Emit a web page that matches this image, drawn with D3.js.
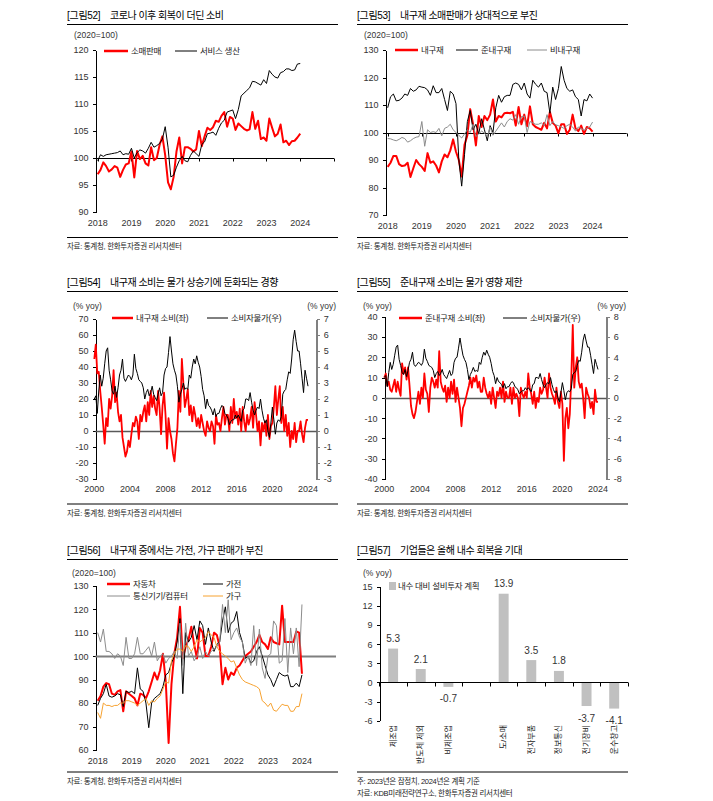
<!DOCTYPE html>
<html>
<head>
<meta charset="utf-8">
<script src="https://cdn.jsdelivr.net/npm/d3@7"></script>
<style>
body { margin: 0; background: #fff; }
svg text { font-family: "Liberation Sans", "Noto Sans CJK KR", sans-serif; }
.ax path, .ax line { stroke: #000; shape-rendering: crispEdges; }
.ax text { fill: #333; font-size: 9px; }
</style>
</head>
<body>
<svg id="chart" width="713" height="801"></svg>
<script>
// ---- data ----
var years18 = [2018, 2019, 2020, 2021, 2022, 2023, 2024];
var years00 = [2000, 2004, 2008, 2012, 2016, 2020, 2024];

// 그림52, monthly from 2018.01
var retail52 = [97.0,97.8,99.2,98.5,97.5,97.9,98.5,98.2,96.5,97.8,98.8,99.0,
  101.2,96.4,101.3,99.8,100.4,99.0,98.6,102.0,99.6,100.0,102.4,104.0,
  100.5,95.5,94.2,96.5,101.2,103.8,99.0,102.0,102.0,101.7,101.2,101.6,
  105.0,102.2,104.0,105.6,105.2,105.7,106.9,106.7,107.8,108.5,105.8,107.6,
  107.3,105.2,106.4,105.9,105.4,105.1,105.3,108.5,105.4,106.9,103.5,103.8,
  103.2,107.3,105.6,104.0,104.5,106.2,102.9,103.2,102.4,103.1,103.2,103.8,104.5];
var service52 = [99.5,100.6,100.3,100.6,100.7,100.8,100.9,101.0,101.3,100.6,100.8,100.7,
  101.8,100.0,101.0,101.5,101.3,100.9,101.8,102.9,102.0,102.3,102.7,103.5,
  105.8,102.0,96.5,96.8,98.3,99.5,100.3,99.5,99.3,100.5,101.3,100.8,
  100.3,102.5,103.0,104.5,104.6,104.8,104.2,105.5,106.5,107.0,108.5,108.7,
  108.9,107.3,109.0,111.5,112.0,112.5,113.0,114.2,114.1,113.8,113.5,114.5,
  113.8,116.2,115.5,115.0,114.8,115.8,116.0,116.5,116.5,116.2,116.3,117.4,117.5];

// 그림53, monthly from 2018.01
var durable53 = [87.5,89.0,91.5,91.5,88.5,87.8,88.0,89.0,83.8,87.0,90.0,88.5,
  87.5,86.0,92.5,89.0,89.5,88.0,85.5,89.5,92.0,91.0,93.5,97.5,
  93.0,90.0,84.0,95.5,99.0,108.5,103.0,95.3,106.0,102.0,106.0,104.5,
  106.5,112.0,104.0,106.0,105.5,107.0,107.2,107.0,107.5,102.5,109.3,103.0,
  106.5,102.3,109.5,103.0,102.0,101.5,101.0,103.5,101.5,107.5,103.5,102.5,
  99.7,103.0,103.0,99.5,101.0,106.5,101.5,100.5,102.5,99.5,102.0,101.5,100.3];
var semi53 = [109,113,114,111.5,111.7,112.5,114,113.5,116,115,115.5,116.8,
  116.5,116.3,115.5,113.5,117,114.5,114.5,116,112,108,115,114,
  110.5,90,80.5,92,104,108,101,103,99.5,105,101,97,
  102.5,100,109,113.5,111,113,113.5,113.5,117.5,118,117.5,115.5,
  118,114,112.5,119,117.5,116.5,118,115,114.5,107,116.5,112,
  116,124,119,116,115,115.5,113,112,106,112,111.5,114,112.5];
var nondur53 = [97.8,97.7,97.3,97,97.5,98.2,97.8,96.5,97,97.8,98.3,98.5,
  104,95,101,100,100.3,100,101.5,98.8,101.5,102,103,101,
  100,99,98,99.5,101,100,103,98.5,99.5,100.5,99.8,98.5,
  102,99,100.5,102,103.5,102,104,105,104.5,106.5,103,105.8,
  106,100,104,103.5,103,103,103.5,102.5,106.5,102.5,104,102.8,
  102.5,102,101.5,102.5,103,102,100.5,102,101.5,100.8,101.5,102,103.8];

// 그림54/55, every 2 months from 2000.01
var durCons54 = [45,54,36,37,25,15, 4,-8,8,3,20,14, 22,38,18,24,12,6, 10,-4,-10,-16,-13,-6,
  -10,-2,5,3,9,6, -5,10,6,12,16,6, 18,10,25,15,22,14, 10,25,14,-2,16,24,
  10,-11,8,0,-5,-14, -19,-8,2,25,12,45, 30,15,20,26,10,16, 6,15,10,3,8,2,
  10,5,0,-3,6,2, 0,6,3,-8,10,4, 5,0,8,15,4,10, 10,0,15,5,20,8,
  12,4,14,0,15,6, 0,10,4,8,15,2, 18,10,0,6,-9,5, 0,6,-3,10,-5,3,
  5,15,28,10,20,28, 5,15,0,10,-3,5, -10,0,-5,5,-7,0, 0,6,-2,-7,2,7, 7];
var semiCons55 = [10,12,6,8,4,3, 6,9,3,8,4,1, 17,12,15,9,15,6, -4,-8,-10,-7,-2,3,
  -3,5,0,12,4,2, -7,5,10,8,5,9, 5,23,8,5,3,6, -2,5,0,8,2,9,
  -2,5,0,-5,-14,-5, -3,0,3,6,10,5, 10,8,11,5,8,3, 3,10,5,2,0,3,
  -3,5,0,-5,3,1, 5,0,8,-2,3,0, 0,5,-3,5,0,2, 0,-9,5,2,0,3,
  0,12,5,2,-3,3, -5,0,-2,5,2,4, 10,5,0,12,5,2, 0,-3,5,-2,-5,3,
  -3,-31,-10,-5,-15,-8, 10,36,5,15,20,8, 5,7,0,-10,5,2, 0,-5,-2,-8,4,-2, -2];
var cpi = [2.0,2.2,1.1,2.5,3.5,2.8, 3.3,4.2,5.0,5.2,3.8,3.2, 2.5,2.3,2.8,2.1,2.7,3.5, 3.8,4.5,3.3,3.1,3.3,3.5,
  3.4,3.2,3.5,4.8,3.9,3.6, 3.2,3.1,3.0,2.7,2.0,2.4, 2.6,2.2,2.4,2.8,2.3,2.1, 1.9,2.3,2.7,2.2,2.4,3.5,
  3.9,4.0,4.9,5.9,5.0,4.2, 3.8,3.5,2.8,1.8,2.3,2.6, 3.0,2.6,2.7,2.6,3.5,3.3, 4.0,4.5,4.2,4.7,4.3,4.0,
  3.4,2.6,2.2,1.4,2.0,1.6, 1.5,1.3,1.0,1.4,0.9,1.1, 1.1,1.4,1.6,1.5,1.1,1.0, 0.8,0.4,0.6,0.7,0.7,1.0,
  0.8,1.0,0.8,0.6,1.3,1.4, 2.0,2.0,1.9,2.4,1.8,1.3, 1.0,1.3,1.5,1.4,2.0,1.3, 0.8,0.5,0.7,0.0,-0.4,0.5,
  1.5,0.7,-0.2,0.5,0.7,0.6, 0.9,2.3,2.5,2.6,3.2,3.7, 3.6,4.5,5.7,6.3,5.6,5.0, 5.0,4.2,3.3,2.4,3.8,3.3, 2.8];

// 그림56, monthly from 2018.01
var car56 = [81,83,87,88.5,88,84,83.5,85,85.5,76.5,85,84,
  83,82,79,84,83.5,82,85,89,93,90,94,101,
  89,63,88,101,108,121,99,104,107,112.5,105,99,
  112,110,100,100,104,110,109,104,88,95,90,93,
  92,95,96,98,100,101,102,104,106,109,106,105,
  103,108,106,105.5,105,121.5,106,106,106,106,110.5,110,92.5];
var appl56 = [79,82,84,88,83,82.5,83,84,83.5,78.5,85,84.5,
  85,84,95,86,85,80,69.5,80,82,83,84,87,
  92,93,97,100,106,116,84,110,106,108,113,107,
  115,113,105,112,106,102,105,106,115,121,110,114,
  115,119,110,106,99,100,97,98,102,104,100,96,
  92,90,87,90,93,92,91.5,92,87,87,88.5,87,92];
var telecom56 = [110,106,111.5,102,102,101,99,101,100,96,108,99,
  99,101,108,101,101,102.5,104,100,106,98,100,101,
  97,99,100,102,99,114,96,114,100,102,98,100,
  104,99,102,100,102,103,104,106,122,110,124,107,
  110,112,108,106,97,100,96,113,96,111.5,95,90.5,
  100,101,115,113,97,98,116,93,112,101,112,95.5,122];
var furn56 = [76,73.5,80,79,79,78.5,79,79,80,80,81,81,
  80.5,80,79,80,81,82,79,81,80.5,82,83,86,
  89,88.5,98,101,103,103,102,104.5,104,102,104,107,
  106,107,108,110.5,109,108,104,102,101,100,99,97.5,
  98,95,92,90,89,88.5,88,87.5,87,86,81,80,
  78.5,80,77,76.5,78,79.5,79,79,76.5,76.5,78.5,78.5,84];

// 그림57
var cats57 = ['제조업', '반도체 제외', '비제조업', '', '도/소매', '전자부품', '정보통신', '전기장비', '운수창고'];
var vals57 = [5.3, 2.1, -0.7, null, 13.9, 3.5, 1.8, -3.7, -4.1];

var RED = '#ff0000', BLACK = '#000', GRAY = '#8c8c8c', ORANGE = '#f7a230';

var svg = d3.select('#chart');

// plain hyphen for negatives, like the original
var fmtTick = function(d) { return String(d); };

function txt(g, x, y, s, size, anchor, color) {
  return g.append('text').attr('x', x).attr('y', y).attr('font-size', size)
    .attr('text-anchor', anchor || 'start').attr('fill', color || '#000')
    .attr('dominant-baseline', 'central').text(s);
}

function header(x0, x1, y, num, title) {
  txt(svg, x0, y, '[그림' + num + ']', 10).attr('letter-spacing', -0.3);
  txt(svg, x0 + 43, y, title, 10).attr('letter-spacing', -0.5);
  svg.append('line').attr('x1', x0).attr('x2', x1).attr('y1', y + 9.5).attr('y2', y + 9.5)
    .attr('stroke', '#000');
}

function footer(x0, x1, y, lines) {
  svg.append('line').attr('x1', x0).attr('x2', x1).attr('y1', y).attr('y2', y).attr('stroke', '#000');
  lines.forEach(function(s, i) {
    txt(svg, x0, y + 9 + i * 12, s, 7.5, 'start', '#222').attr('letter-spacing', -0.3);
  });
}

function legend(items) {
  items.forEach(function(it) {
    svg.append('line').attr('x1', it.x).attr('x2', it.x + it.len).attr('y1', it.y).attr('y2', it.y)
      .attr('stroke', it.color).attr('stroke-width', it.w);
    txt(svg, it.x + it.len + 3, it.y, it.label, 8.5, 'start', '#222').attr('letter-spacing', -0.3);
  });
}

function linePanel(p) {
  var g = svg.append('g');
  var x = d3.scaleLinear().domain(p.xDomain).range(p.xRange);
  var y = d3.scaleLinear().domain(p.yDomain).range(p.yRange);

  g.append('g').attr('class', 'ax').attr('transform', 'translate(' + p.axisX + ',0)')
    .call(d3.axisLeft(y).tickValues(p.yTicks).tickFormat(fmtTick).tickSize(3).tickSizeOuter(0).tickPadding(4));

  if (p.y2Domain) {
    var y2 = d3.scaleLinear().domain(p.y2Domain).range(p.yRange);
    var ra = g.append('g').attr('class', 'ax').attr('transform', 'translate(' + p.axis2X + ',0)')
      .call(d3.axisRight(y2).tickValues(p.y2Ticks).tickFormat(fmtTick).tickSize(3).tickSizeOuter(0).tickPadding(4));
    ra.select('.domain').style('stroke', '#808080').style('stroke-width', 2.5);
    ra.selectAll('.tick line').style('stroke', '#808080');
  }

  // x labels (no bottom axis line in the original)
  g.selectAll('text.xl').data(p.xLabels).enter().append('text')
    .attr('class', 'xl').attr('x', function(d) { return x(d); }).attr('y', p.labelY)
    .attr('text-anchor', 'middle').attr('dominant-baseline', 'central')
    .attr('font-size', 9).attr('fill', '#333').text(function(d) { return d; });

  function drawSeries() {
    p.series.forEach(function(s) {
      var ys = s.right ? d3.scaleLinear().domain(p.y2Domain).range(p.yRange) : y;
      var line = d3.line()
        .x(function(d, i) { return x(p.xStart + i * p.step); })
        .y(function(d) { return ys(d); });
      g.append('path').datum(s.values).attr('d', line).attr('fill', 'none')
        .attr('stroke', s.color).attr('stroke-width', s.w).attr('stroke-linejoin', 'round');
    });
  }

  // base line
  var by = Math.round(y(p.base)) + 0.5;
  if (p.baseOnTop) drawSeries();
  g.append('line').attr('x1', p.axisX).attr('x2', p.xEnd).attr('y1', by).attr('y2', by)
    .attr('stroke', p.baseColor).attr('stroke-width', p.baseWidth);
  if (p.baseTicks) {
    g.selectAll('line.bt').data(p.baseTicks).enter().append('line').attr('class', 'bt')
      .attr('x1', function(d) { return Math.round(x(d)) + 0.5; })
      .attr('x2', function(d) { return Math.round(x(d)) + 0.5; })
      .attr('y1', by).attr('y2', by + 3).attr('stroke', p.baseColor);
  }
  if (!p.baseOnTop) drawSeries();
}

// ---- 그림52 ----
header(67, 338, 15, '52', '코로나 이후 회복이 더딘 소비');
txt(svg, 74, 35, '(2020=100)', 8.5, 'start', '#333');
linePanel({
  xDomain: [2018, 2025], xRange: [97.7, 334], xStart: 2018, step: 1 / 12,
  yDomain: [90, 120], yRange: [212, 50], yTicks: [90, 95, 100, 105, 110, 115, 120],
  axisX: 95.5, xEnd: 334, base: 100, baseColor: '#000', baseWidth: 1,
  baseTicks: [2018, 2019, 2020, 2021, 2022, 2023, 2024, 2025],
  xLabels: years18, labelY: 223,
  series: [{ values: retail52, color: RED, w: 2 }, { values: service52, color: BLACK, w: 1 }]
});
legend([
  { x: 104, y: 51, len: 24, color: RED, w: 2.5, label: '소매판매' },
  { x: 175, y: 51, len: 22, color: BLACK, w: 1, label: '서비스 생산' }
]);
footer(67, 338, 237.5, ['자료: 통계청, 한화투자증권 리서치센터']);

// ---- 그림53 ----
header(357, 628, 15, '53', '내구재 소매판매가 상대적으로 부진');
txt(svg, 364, 35, '(2020=100)', 8.5, 'start', '#333');
linePanel({
  xDomain: [2018, 2025], xRange: [387.7, 626.7], xStart: 2018, step: 1 / 12,
  yDomain: [70, 130], yRange: [215, 50], yTicks: [70, 80, 90, 100, 110, 120, 130],
  axisX: 385.5, xEnd: 626.7, base: 100, baseColor: '#000', baseWidth: 1,
  baseTicks: [2018, 2019, 2020, 2021, 2022, 2023, 2024, 2025],
  xLabels: years18, labelY: 226,
  series: [{ values: durable53, color: RED, w: 2 }, { values: semi53, color: BLACK, w: 1 },
    { values: nondur53, color: GRAY, w: 1 }]
});
legend([
  { x: 395, y: 50, len: 23, color: RED, w: 2.5, label: '내구재' },
  { x: 456, y: 50, len: 22, color: BLACK, w: 1, label: '준내구재' },
  { x: 527, y: 50, len: 20, color: GRAY, w: 1, label: '비내구재' }
]);
footer(357, 628, 237.5, ['자료: 통계청, 한화투자증권 리서치센터']);

// ---- 그림54 ----
header(67, 338, 282, '54', '내구재 소비는 물가 상승기에 둔화되는 경향');
txt(svg, 73, 306, '(% yoy)', 8.5, 'start', '#333');
txt(svg, 336, 306, '(% yoy)', 8.5, 'end', '#333');
linePanel({
  xDomain: [2000, 2024], xRange: [94.3, 308], xStart: 2000, step: 1 / 6,
  yDomain: [-30, 70], yRange: [479, 319], yTicks: d3.range(-30, 71, 10),
  y2Domain: [-3, 7], y2Ticks: d3.range(-3, 8, 1), axis2X: 316.7,
  axisX: 95.5, xEnd: 316.7, base: 0, baseColor: '#595959', baseWidth: 1.3,
  xLabels: years00, labelY: 489,
  series: [{ values: durCons54, color: RED, w: 1.8 }, { values: cpi, color: BLACK, w: 1, right: true }]
});
legend([
  { x: 112, y: 318, len: 21, color: RED, w: 2.5, label: '내구재 소비(좌)' },
  { x: 207, y: 318, len: 21, color: BLACK, w: 1, label: '소비자물가(우)' }
]);
footer(67, 338, 504, ['자료: 통계청, 한화투자증권 리서치센터']);

// ---- 그림55 ----
header(357, 628, 282, '55', '준내구재 소비는 물가 영향 제한');
txt(svg, 363, 306, '(% yoy)', 8.5, 'start', '#333');
txt(svg, 626, 306, '(% yoy)', 8.5, 'end', '#333');
linePanel({
  xDomain: [2000, 2024], xRange: [384.3, 598], xStart: 2000, step: 1 / 6,
  yDomain: [-40, 40], yRange: [479, 316.7], yTicks: d3.range(-40, 41, 10),
  y2Domain: [-8, 8], y2Ticks: d3.range(-8, 9, 2), axis2X: 606.7,
  axisX: 384.5, xEnd: 606.7, base: 0, baseColor: '#595959', baseWidth: 1.3,
  xLabels: years00, labelY: 489,
  series: [{ values: semiCons55, color: RED, w: 1.8 }, { values: cpi, color: BLACK, w: 1, right: true }]
});
legend([
  { x: 399, y: 318, len: 23, color: RED, w: 2.5, label: '준내구재 소비(좌)' },
  { x: 503, y: 318, len: 24, color: BLACK, w: 1, label: '소비자물가(우)' }
]);
footer(357, 628, 504, ['자료: 통계청, 한화투자증권 리서치센터']);

// ---- 그림56 ----
header(67, 338, 550, '56', '내구재 중에서는 가전, 가구 판매가 부진');
txt(svg, 72, 573, '(2020=100)', 8.5, 'start', '#333');
linePanel({
  xDomain: [2018, 2025], xRange: [97.7, 336], xStart: 2018, step: 1 / 12,
  yDomain: [60, 130], yRange: [750, 585.7], yTicks: d3.range(60, 131, 10),
  axisX: 95.5, xEnd: 336, base: 100, baseColor: '#7f7f7f', baseWidth: 2,
  xLabels: years18, labelY: 761,
  series: [{ values: car56, color: RED, w: 2 }, { values: appl56, color: BLACK, w: 1 },
    { values: telecom56, color: GRAY, w: 1 }, { values: furn56, color: ORANGE, w: 1 }]
});
legend([
  { x: 107, y: 584, len: 23, color: RED, w: 2.5, label: '자동차' },
  { x: 203, y: 584, len: 20, color: BLACK, w: 1, label: '가전' },
  { x: 107, y: 596, len: 23, color: GRAY, w: 1, label: '통신기기/컴퓨터' },
  { x: 203, y: 596, len: 20, color: ORANGE, w: 1, label: '가구' }
]);
footer(67, 338, 772, ['자료: 통계청, 한화투자증권 리서치센터']);

// ---- 그림57 ----
header(357, 628, 550, '57', '기업들은 올해 내수 회복을 기대');
txt(svg, 363, 573, '(% yoy)', 8.5, 'start', '#333');
(function() {
  var g = svg.append('g');
  var x = d3.scaleBand().domain(d3.range(cats57.length)).range([379.3, 628])
    .paddingInner(0.64).paddingOuter(0.32);
  var y = d3.scaleLinear().domain([-6, 15]).range([720.7, 586.7]);
  var step = x.step();

  g.append('g').attr('class', 'ax').attr('transform', 'translate(379.5,0)')
    .call(d3.axisLeft(y).tickValues(d3.range(-6, 16, 3)).tickFormat(fmtTick).tickSize(3).tickSizeOuter(0).tickPadding(4));

  g.selectAll('rect').data(vals57.map(function(v, i) { return { v: v, i: i }; })
      .filter(function(d) { return d.v !== null; }))
    .enter().append('rect')
    .attr('x', function(d) { return x(d.i); })
    .attr('width', x.bandwidth())
    .attr('y', function(d) { return y(Math.max(0, d.v)); })
    .attr('height', function(d) { return Math.abs(y(d.v) - y(0)); })
    .attr('fill', '#c0c0c0');

  var zy = Math.round(y(0)) + 0.5;
  g.append('line').attr('x1', 379.3).attr('x2', 628).attr('y1', zy).attr('y2', zy).attr('stroke', '#000');
  g.selectAll('line.bt').data(d3.range(cats57.length + 1)).enter().append('line').attr('class', 'bt')
    .attr('x1', function(d) { return Math.round(379.3 + d * step) + 0.5; })
    .attr('x2', function(d) { return Math.round(379.3 + d * step) + 0.5; })
    .attr('y1', zy).attr('y2', zy + 4).attr('stroke', '#000');

  vals57.forEach(function(v, i) {
    if (v === null) return;
    var cx = x(i) + x.bandwidth() / 2;
    var ly = v >= 0 ? y(v) - 10 : y(v) + 12;
    txt(g, cx, ly, v.toFixed(1), 10, 'middle', '#333');
  });

  cats57.forEach(function(c, i) {
    if (!c) return;
    var cx = x(i) + x.bandwidth() / 2;
    g.append('text').attr('transform', 'translate(' + cx + ',725) rotate(-90)')
      .attr('text-anchor', 'end').attr('dominant-baseline', 'central')
      .attr('font-size', 8).attr('fill', '#222').text(c);
  });

  svg.append('rect').attr('x', 389).attr('y', 582).attr('width', 7).attr('height', 8).attr('fill', '#c0c0c0');
  txt(svg, 398, 586, '내수 대비 설비투자 계획', 8.5, 'start', '#222').attr('letter-spacing', -0.3);
})();
footer(357, 628, 772, ['주: 2023년은 잠정치, 2024년은 계획 기준', '자료: KDB미래전략연구소, 한화투자증권 리서치센터']);
</script>
</body>
</html>
